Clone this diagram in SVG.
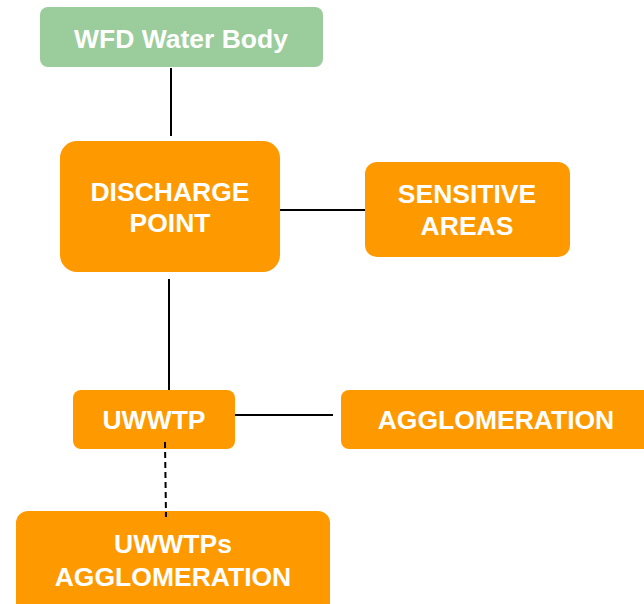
<svg xmlns="http://www.w3.org/2000/svg" width="644" height="604" viewBox="0 0 644 604">
<style>
.o{fill:#FF9900}
.g{fill:#9BCC9B}
text{font-family:"Liberation Sans",Arial,sans-serif;font-weight:bold;font-size:26.5px;fill:#FFFFFF;text-anchor:middle}
.c{stroke:#000;stroke-width:2;fill:none}
.d{stroke-dasharray:6,4}
</style>
<rect width="644" height="604" fill="#FFFFFF"/>
<g id="wfd">
<rect class="g" x="40" y="7" width="283" height="60" rx="8"/>
<text x="181" y="48">WFD Water Body</text>
</g>
<g id="discharge">
<rect class="o" x="60" y="141" width="220" height="131" rx="17"/>
<text x="170" y="201">DISCHARGE</text>
<text x="170" y="232">POINT</text>
</g>
<g id="sensitive">
<rect class="o" x="365" y="162" width="205" height="95" rx="12"/>
<text x="467" y="203">SENSITIVE</text>
<text x="467" y="235">AREAS</text>
</g>
<g id="uwwtp">
<rect class="o" x="73" y="390" width="162" height="59" rx="8"/>
<text x="154" y="429">UWWTP</text>
</g>
<g id="agglomeration">
<rect class="o" x="341" y="390" width="320" height="59" rx="8"/>
<text x="496" y="429">AGGLOMERATION</text>
</g>
<g id="uwwtps">
<rect class="o" x="16" y="511" width="314" height="110" rx="12"/>
<text x="173" y="553">UWWTPs</text>
<text x="173" y="586">AGGLOMERATION</text>
</g>
<g id="connectors">
<line class="c" x1="171" y1="68" x2="171" y2="136"/>
<line class="c" x1="280" y1="210" x2="365" y2="210"/>
<line class="c" x1="169" y1="279" x2="169" y2="390"/>
<line class="c" x1="235" y1="415" x2="333" y2="415"/>
<line class="c d" x1="165" y1="442" x2="166" y2="517"/>
</g>
</svg>
